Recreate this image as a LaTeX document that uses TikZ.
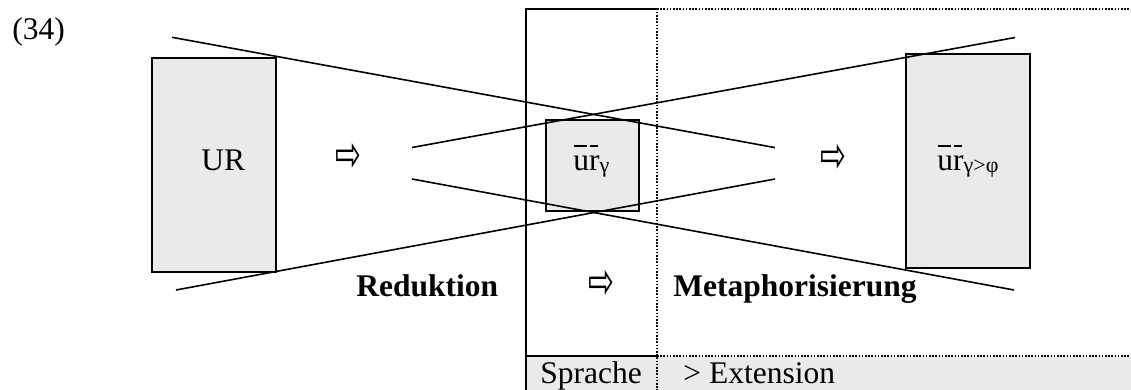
\documentclass[tikz,border=0pt]{standalone}
\usepackage{fontspec}
\usepackage{graphicx}
\setmainfont{Liberation Serif}
\newfontfamily\symfont{DejaVu Sans}
\definecolor{boxgray}{HTML}{EAEAEA}
\newcommand\barl[1]{\leavevmode\setbox0\hbox{#1}\rlap{\kern0.04\wd0\raisebox{0.74em}{\rule{0.8\wd0}{0.055em}}}\box0}
\newcommand\subs[1]{\raisebox{-0.07em}{\fontsize{11}{12}\selectfont #1}}
\newcommand\warrow{\scalebox{0.62}[1]{⇨}}
\tikzset{
  box/.style={draw=black, line width=0.95pt, fill=boxgray, inner sep=0pt, outer sep=0pt},
  ray/.style={line width=0.8pt},
  lbl/.style={anchor=base west, inner sep=0pt, font=\fontsize{15.75}{18}\selectfont},
  blbl/.style={anchor=base west, inner sep=0pt, font=\fontsize{15.75}{18}\selectfont\bfseries},
  arr/.style={inner sep=0pt, font=\fontsize{25}{28}\symfont},
  solidline/.style={line width=0.95pt},
  dotline/.style={line width=0.95pt, dash pattern=on 0.8pt off 0.8pt},
}
\begin{document}
\begin{tikzpicture}[x=0.5pt,y=-0.5pt]
\useasboundingbox (0,0) rectangle (1131,390);
% bottom row fill
\fill[boxgray] (526,356) rectangle (1131,390);
% column frame
\coordinate (tl) at (526,8.7);
\coordinate (tm) at (657,8.7);
\coordinate (tr) at (1131,8.7);
\coordinate (bl) at (526,390);
\coordinate (bm) at (657,390);
\coordinate (ml) at (526,356);
\coordinate (mm) at (657,356);
\coordinate (mr) at (1131,356);
\draw[solidline] (tm) -- (tl) -- (bl);
\draw[solidline] (ml) -- (mm);
\draw[dotline] (tm) -- (tr);
\draw[dotline] (mm) -- (mr);
\draw[dotline] (tm) -- (bm);
% boxes
\node[box, minimum width=62pt, minimum height=107pt] (URbox) at (214,165) {};
\node[box, minimum width=46.5pt, minimum height=45.5pt] (urbox) at (592.5,165.5) {};
\node[box, minimum width=62pt, minimum height=107pt] (urpbox) at (968,161) {};
% rays
\coordinate (a1) at (172,37.3);
\coordinate (a2) at (775,147.6);
\coordinate (b1) at (176,290);
\coordinate (b2) at (775,179);
\coordinate (c1) at (1015,37.5);
\coordinate (c2) at (412,147.5);
\coordinate (d1) at (1014,290);
\coordinate (d2) at (412,179);
\draw[ray] (a1) -- (a2);
\draw[ray] (b1) -- (b2);
\draw[ray] (c1) -- (c2);
\draw[ray] (d1) -- (d2);
% texts
\node[lbl] (num) at (12,40) {(34)};
\node[lbl] (UR) at (201,170) {UR};
\node[lbl] (urg) at (573,170) {\barl{u}\barl{r}\subs{γ}};
\node[lbl] (urgp) at (937,170) {\barl{u}\barl{r}\subs{γ>φ}};
\node[blbl] (red) at (356,296) {Reduktion};
\node[blbl] (met) at (673,296) {Metaphorisierung};
\node[lbl] (spr) at (540,383) {Sprache};
\node[lbl] (ext) at (683,383) {> Extension};
% arrows
\node[arr] (ar1) at (348,157) {\warrow};
\node[arr] (ar2) at (601,284) {\warrow};
\node[arr] (ar3) at (833,158) {\warrow};
\end{tikzpicture}
\end{document}
